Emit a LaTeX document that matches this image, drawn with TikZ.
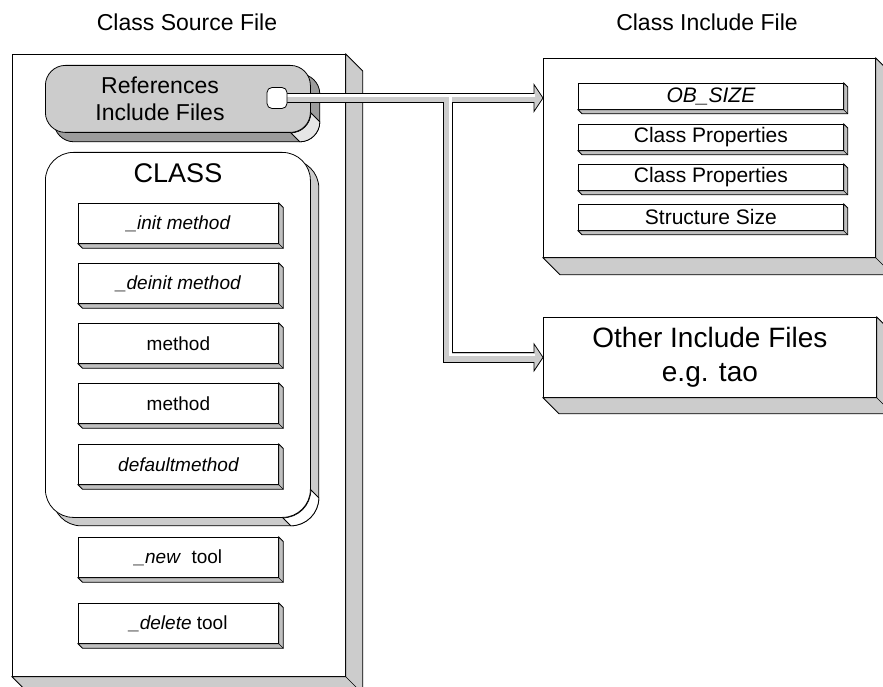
\documentclass[tikz,border=0pt]{standalone}
\usepackage{fontspec}
\setmainfont{Liberation Sans}
\usetikzlibrary{calc}

\pgfdeclarelayer{low}
\pgfdeclarelayer{mid}
\pgfdeclarelayer{top}
\pgfsetlayers{low,mid,main,top}

\definecolor{face}{HTML}{CCCCCC}
\definecolor{sidedark}{HTML}{9C9C9C}
\definecolor{sidelight}{HTML}{E6E6E6}
\definecolor{itemside}{HTML}{C0C0C0}

% extruded faces to the right of and below a rectangular node
\newcommand\slab[3]{%
  \draw[fill=#3, line width=0.8pt, line join=miter]
    (#1.north east) -- ++(#2,#2) -- ($(#1.south east)+(#2,#2)$)
    -- ($(#1.south west)+(#2,#2)$) -- (#1.south west) -- (#1.south east) -- cycle;
  \draw[line width=0.6pt] (#1.south east) -- ++(#2,#2);
}

% extruded body behind a rounded node: depth, radius, side colour, corner colour
\newcommand\roundslab[5]{%
  \begin{pgfonlayer}{mid}
    \draw[fill=#4, rounded corners=#3, line width=0.8pt]
      ($(#1.north west)+(#2,#2)$) rectangle ($(#1.south east)+(#2,#2)$);
    \draw[fill=#5, line width=0.8pt]
      ([yshift=#3]#1.south east) arc[start angle=0, end angle=-90, radius=#3]
      -- ++(#2,#2) arc[start angle=-90, end angle=0, radius=#3] -- cycle;
  \end{pgfonlayer}
}

\begin{document}
\begin{tikzpicture}[x=1pt, y=-1pt,
  title/.style={font=\fontsize{23}{27}\selectfont},
  bigbox/.style={draw, fill=white, line width=0.8pt, inner sep=0pt, anchor=north west},
  roundbox/.style={draw, line width=0.8pt, inner sep=0pt, anchor=north west},
  member/.style={draw, fill=white, line width=0.8pt, inner sep=0pt, anchor=north west,
    minimum width=200pt, minimum height=40pt, font=\fontsize{19}{22}\selectfont},
  field/.style={draw, fill=white, line width=0.8pt, inner sep=0pt, anchor=north west,
    minimum width=265pt, minimum height=26pt, font=\fontsize{21}{24}\selectfont},
  port/.style={draw, fill=white, line width=0.8pt, rounded corners=5pt,
    minimum width=20pt, minimum height=21pt, inner sep=0pt},
  head/.style={draw, fill=face, line width=0.8pt, line join=miter}]

\useasboundingbox (0,0) rectangle (883,687);

% headings
\node[title] (srctitle) at (187,22) {Class Source File};
\node[title] (inctitle) at (707,22) {Class Include File};

% the three outer slabs
\begin{pgfonlayer}{low}
  \node[bigbox, minimum width=333pt, minimum height=622pt] (src) at (12,54) {};
  \slab{src}{17}{face}
  \node[bigbox, minimum width=332pt, minimum height=199pt] (inc) at (543,58) {};
  \slab{inc}{17}{face}
  \node[bigbox, minimum width=333pt, minimum height=80pt, align=center,
        font=\fontsize{28}{34}\selectfont] (other) at (543,317)
        {Other Include Files\\e.g. tao};
  \slab{other}{16}{face}
\end{pgfonlayer}

% include references
\node[roundbox, fill=face, rounded corners=20pt, minimum width=265pt, minimum height=67pt]
  (ref) at (45,65) {};
\roundslab{ref}{9}{20pt}{sidedark}{sidelight}
\node[align=center, font=\fontsize{23}{27}\selectfont] (reflabel) at (160,99)
  {References\\Include Files};

% class body
\node[roundbox, fill=white, rounded corners=28pt, minimum width=265pt, minimum height=365pt]
  (cls) at (45,152) {};
\roundslab{cls}{8}{28pt}{face}{white}
\node[font=\fontsize{27}{30}\selectfont] (clslabel) at (178,173) {CLASS};

% class members
\node[member] (init)   at (78,203) {\itshape \_init method};
\slab{init}{4.5}{itemside}
\node[member] (deinit) at (78,263) {\itshape \_deinit method};
\slab{deinit}{4.5}{itemside}
\node[member] (mA)     at (78,323) {method};
\slab{mA}{4.5}{itemside}
\node[member] (mB)     at (78,383) {method};
\slab{mB}{4.5}{itemside}
\node[member] (dflt)   at (78,444) {\itshape defaultmethod};
\slab{dflt}{4.5}{itemside}
\node[member] (newt)   at (78,537) {\textit{\_new}\ \ tool};
\slab{newt}{4.5}{itemside}
\node[member] (delt)   at (78,603) {\textit{\_delete} tool};
\slab{delt}{4.5}{itemside}

% include file fields
\node[field] (obsize) at (578,83)  {\itshape OB\_SIZE};
\slab{obsize}{4}{itemside}
\node[field] (propA)  at (578,124) {Class Properties};
\slab{propA}{4}{itemside}
\node[field] (propB)  at (578,164) {Class Properties};
\slab{propB}{4}{itemside}
\node[field] (ssize)  at (578,204) {Structure Size};
\slab{ssize}{4}{itemside}

% connection port
\begin{pgfonlayer}{top}
  \node[port] (port) at (277,98) {};
\end{pgfonlayer}

% hollow block arrows
\coordinate (fork) at (448,98);
\coordinate (tipA) at (port.center -| inc.west);
\coordinate (tipB) at (other.west);
\begin{scope}[line cap=butt, line join=miter]
  \draw[line width=10.5pt] (port.center) -- ($(tipA)+(-9,0)$);
  \draw[line width=10.5pt] (fork) -- (fork |- tipB) -- ($(tipB)+(-9,0)$);
  \draw[head] (tipA) -- ++(-9,-13.5) -- ++(0,27) -- cycle;
  \draw[head] (tipB) -- ++(-9,-13.5) -- ++(0,27) -- cycle;
  \draw[line width=8.5pt, face] (port.center) -- ($(tipA)+(-7,0)$);
  \draw[line width=8.5pt, face] (fork) -- (fork |- tipB) -- ($(tipB)+(-7,0)$);
  \draw[line width=2.5pt, white] ($(port.center)+(0,-2.4)$) -- ($(tipA)+(-8,-2.4)$);
  \draw[line width=2.5pt, white] ($(fork)+(2.4,-2.4)$) -- ($(fork |- tipB)+(2.4,-2.4)$)
    -- ($(tipB)+(-8,-2.4)$);
\end{scope}

\end{tikzpicture}
\end{document}
